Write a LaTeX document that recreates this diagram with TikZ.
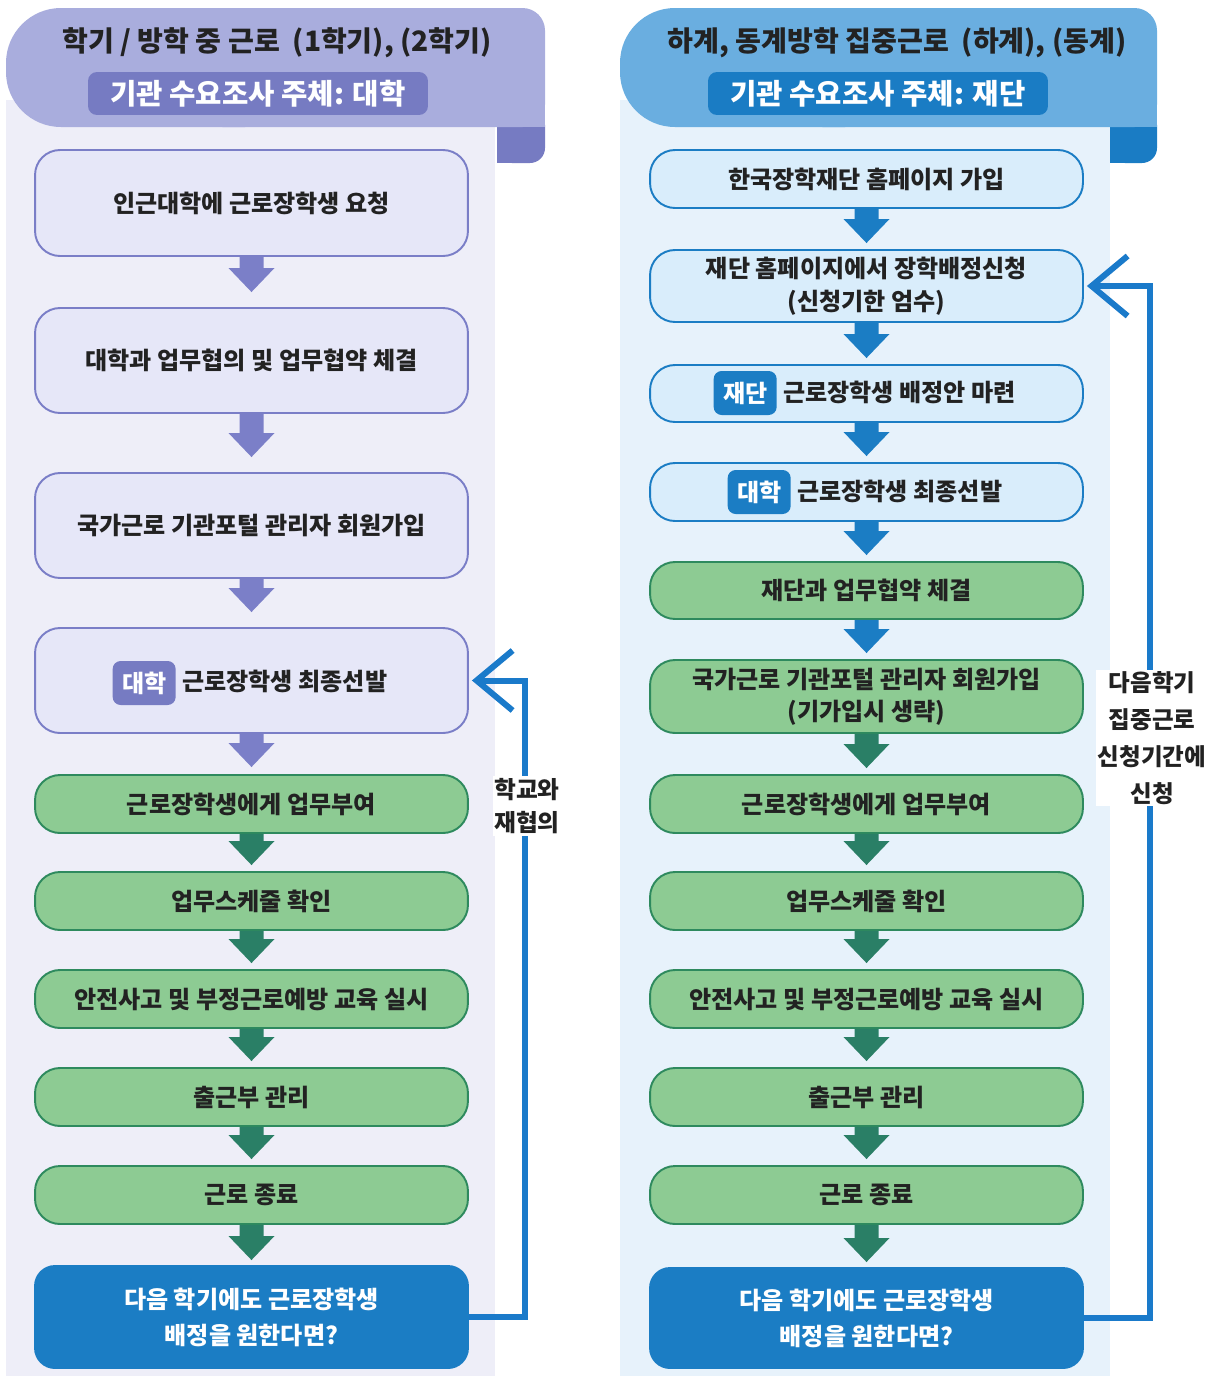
\documentclass[tikz,border=0pt]{standalone}
\usepackage{fontspec}
\setmainfont{Noto Sans CJK KR}
\usetikzlibrary{calc,arrows.meta}
\definecolor{panL}{HTML}{EEEEF8}
\definecolor{panR}{HTML}{E7F2FB}
\definecolor{hdrL}{HTML}{A9ADDD}
\definecolor{subL}{HTML}{767BC2}
\definecolor{hdrR}{HTML}{6AAEE0}
\definecolor{subR}{HTML}{1A7CC4}
\definecolor{lavfill}{HTML}{E6E7F8}
\definecolor{lavline}{HTML}{7A7EC7}
\definecolor{lavarrow}{HTML}{7B7FC8}
\definecolor{grnfill}{HTML}{8DCB93}
\definecolor{grnline}{HTML}{2E8A5E}
\definecolor{grnarrow}{HTML}{2A7F66}
\definecolor{lbfill}{HTML}{D9EDFB}
\definecolor{blueone}{HTML}{1B7DC4}
\definecolor{fbblue}{HTML}{1A7ACA}
\definecolor{txt}{HTML}{222222}
\newcommand\boxfont{\fontsize{13.7pt}{18pt}\selectfont\bfseries}
\newcommand\titlefont{\fontsize{16pt}{19pt}\selectfont\bfseries}
\newcommand\subfont{\fontsize{16.3pt}{19pt}\selectfont\bfseries}
\newcommand\lblfont{\fontsize{13.5pt}{19pt}\selectfont\bfseries}
\tikzset{
  bh/.style={minimum height={#1*0.02cm}},
  box/.style={rounded corners=0.5cm, minimum width=8.66cm, inner sep=0pt, align=center, font=\boxfont, text=txt, line width=1.1pt},
  lavbox/.style={box, fill=lavfill, draw=lavline},
  grnbox/.style={box, fill=grnfill, draw=grnline},
  lbbox/.style={box, fill=lbfill, draw=blueone},
  bluebox/.style={box, fill=blueone, draw=blueone, text=white, rounded corners=0.4cm, font={\fontsize{13.7pt}{20.5pt}\selectfont\bfseries}},
  badge/.style={fill=#1, text=white, rounded corners=0.16cm, minimum width=1.26cm, minimum height=0.88cm, inner sep=0pt, font=\boxfont},
  plaintext/.style={font=\boxfont, text=txt, inner sep=0pt},
  subbox/.style={fill=#1, rounded corners=0.18cm, minimum width=6.8cm, minimum height=0.86cm, text=white, font=\subfont, inner sep=0pt},
  fb/.style={draw=fbblue, line width=0.12cm, -{Straight Barb[length=0.72cm, width=1.2cm]}, shorten >=0.06cm},
  lbl/.style={fill=white, font=\lblfont, text=txt, align=center, inner sep=1pt}
}
\newcommand\blockarrow[4]{%
  \fill[#1] ($(#2.south)+(-12,0)$) -- ($(#3.north)+(-12,-#4-24)$) -- ($(#3.north)+(-23,-#4-24)$)
    -- ($(#3.north)+(0,-#4)$) -- ($(#3.north)+(23,-#4-24)$) -- ($(#3.north)+(12,-#4-24)$)
    -- ($(#2.south)+(12,0)$) -- cycle;}
\begin{document}
\begin{tikzpicture}[x=0.02cm,y=-0.02cm]
\useasboundingbox (0,0) rectangle (1213,1376);
% panels
\fill[panL] (6,100) rectangle (495,1376);
\fill[panR] (620,100) rectangle (1110,1376);
% left header
\fill[subL] (497,110) rectangle (545,150);
\fill[subL, rounded corners=0.3cm] (497,110) rectangle (545,163);
\fill[subL] (497,140) rectangle (520,163);
\fill[hdrL, rounded corners=1.1cm] (6,8) rectangle (300,127);
\fill[hdrL, rounded corners=0.45cm] (200,8) rectangle (545,127);
\fill[hdrL] (400,60) rectangle (545,127);
\node[font=\titlefont, text=txt] (LT) at (277,43) {학기 / 방학 중 근로~~(1학기), (2학기)};
\node[subbox=subL] (LS) at (258,93.5) {기관 수요조사 주체: 대학};
% right header
\fill[subR] (1110,110) rectangle (1157,150);
\fill[subR, rounded corners=0.3cm] (1110,110) rectangle (1157,163);
\fill[subR] (1110,140) rectangle (1133,163);
\fill[hdrR, rounded corners=1.1cm] (620,8) rectangle (900,127);
\fill[hdrR, rounded corners=0.45cm] (800,8) rectangle (1157,127);
\fill[hdrR] (1000,60) rectangle (1157,127);
\node[font=\titlefont, text=txt] (RT) at (897,43) {하계, 동계방학 집중근로~~(하계), (동계)};
\node[subbox=subR] (RS) at (878,93.5) {기관 수요조사 주체: 재단};
% left column
\node[lavbox,bh=106] (L1) at (251.5,203) {인근대학에 근로장학생 요청};
\node[lavbox,bh=105] (L2) at (251.5,360.5) {대학과 업무협의 및 업무협약 체결};
\node[lavbox,bh=105] (L3) at (251.5,525.5) {국가근로 기관포털 관리자 회원가입};
\node[lavbox,bh=105] (L4) at (251.5,680.5) {};
\node[badge=subL, anchor=east] (L4b) at (176,683) {대학};
\node[plaintext, anchor=west] (L4t) at (182,681) {근로장학생 최종선발};
\node[grnbox,bh=58] (L5) at (251.5,804) {근로장학생에게 업무부여};
\node[grnbox,bh=58] (L6) at (251.5,901) {업무스케줄 확인};
\node[grnbox,bh=58] (L7) at (251.5,999) {안전사고 및 부정근로예방 교육 실시};
\node[grnbox,bh=58] (L8) at (251.5,1097) {출근부 관리};
\node[grnbox,bh=58] (L9) at (251.5,1195) {근로 종료};
\node[bluebox,bh=102] (L10) at (251.5,1317) {다음 학기에도 근로장학생\\배정을 원한다면?};
\blockarrow{lavarrow}{L1}{L2}{15}
\blockarrow{lavarrow}{L2}{L3}{15}
\blockarrow{lavarrow}{L3}{L4}{15}
\blockarrow{lavarrow}{L4}{L5}{7}
\blockarrow{grnarrow}{L5}{L6}{6}
\blockarrow{grnarrow}{L6}{L7}{6}
\blockarrow{grnarrow}{L7}{L8}{6}
\blockarrow{grnarrow}{L8}{L9}{6}
\blockarrow{grnarrow}{L9}{L10}{5}
% right column
\node[lbbox,bh=58] (R1) at (866.5,179) {한국장학재단 홈페이지 가입};
\node[lbbox,bh=72] (R2) at (866.5,286) {재단 홈페이지에서 장학배정신청\\[1pt](신청기한 엄수)};
\node[lbbox,bh=57] (R3) at (866.5,393.5) {};
\node[badge=blueone, anchor=east] (R3b) at (777,393) {재단};
\node[plaintext, anchor=west] (R3t) at (783,392) {근로장학생 배정안 마련};
\node[lbbox,bh=58] (R4) at (866.5,492) {};
\node[badge=blueone, anchor=east] (R4b) at (791,492) {대학};
\node[plaintext, anchor=west] (R4t) at (797,491) {근로장학생 최종선발};
\node[grnbox,bh=57] (R5) at (866.5,590.5) {재단과 업무협약 체결};
\node[grnbox,bh=73] (R6) at (866.5,696.5) {\fontsize{13.7pt}{15.5pt}\selectfont 국가근로 기관포털 관리자 회원가입\\(기가입시 생략)};
\node[grnbox,bh=58] (R7) at (866.5,804) {근로장학생에게 업무부여};
\node[grnbox,bh=58] (R8) at (866.5,901) {업무스케줄 확인};
\node[grnbox,bh=58] (R9) at (866.5,999) {안전사고 및 부정근로예방 교육 실시};
\node[grnbox,bh=58] (R10) at (866.5,1097) {출근부 관리};
\node[grnbox,bh=58] (R11) at (866.5,1195) {근로 종료};
\node[bluebox,bh=100] (R12) at (866.5,1318) {다음 학기에도 근로장학생\\배정을 원한다면?};
\blockarrow{blueone}{R1}{R2}{6}
\blockarrow{blueone}{R2}{R3}{6}
\blockarrow{blueone}{R3}{R4}{6}
\blockarrow{blueone}{R4}{R5}{6}
\blockarrow{blueone}{R5}{R6}{6}
\blockarrow{grnarrow}{R6}{R7}{6}
\blockarrow{grnarrow}{R7}{R8}{6}
\blockarrow{grnarrow}{R8}{R9}{6}
\blockarrow{grnarrow}{R9}{R10}{6}
\blockarrow{grnarrow}{R10}{R11}{6}
\blockarrow{grnarrow}{R11}{R12}{5}
% feedback loops
\coordinate (LX) at (525,0);
\coordinate (RX) at (1150,0);
\draw[fb] (L10.east) -| (LX |- L4.east) -- (L4.east);
\draw[fb] (R12.east) -| (RX |- R2.east) -- (R2.east);
\node[lbl] (LL) at (527,806) {학교와\\재협의};
\node[lbl, font={\fontsize{13.4pt}{21pt}\selectfont\bfseries}] (RL) at (1152,738) {다음학기\\집중근로\\신청기간에\\신청};
\end{tikzpicture}
\end{document}
